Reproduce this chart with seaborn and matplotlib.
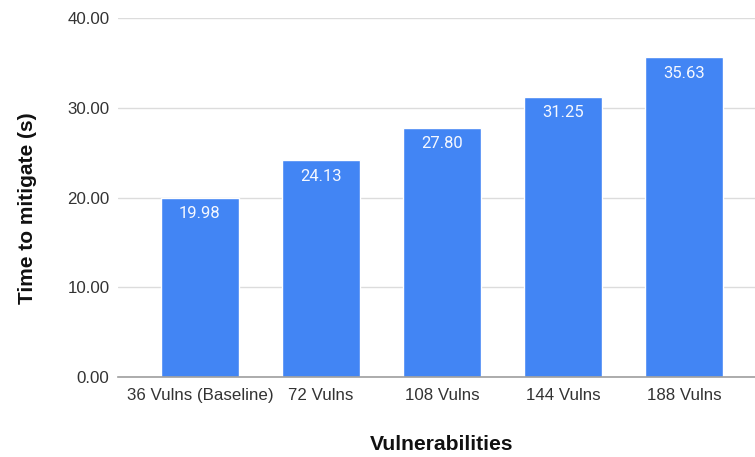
import matplotlib
matplotlib.use("Agg")
import matplotlib.pyplot as plt
import seaborn as sns
import pandas as pd

categories = ["36 Vulns (Baseline)", "72 Vulns", "108 Vulns", "144 Vulns", "188 Vulns"]
times = [19.98, 24.13, 27.80, 31.25, 35.63]
y_ticks = [0, 10, 20, 30, 40]

sns.set_style("white")
plt.rcParams["font.family"] = ["Liberation Sans", "DejaVu Sans"]

df = pd.DataFrame({"Vulnerabilities": categories, "Time": times})

fig = plt.figure(figsize=(7.55, 4.57), dpi=100)
ax = fig.add_axes([0.156, 0.175, 0.844, 0.7856])

sns.barplot(data=df, x="Vulnerabilities", y="Time", color="#4285F4",
            saturation=1, width=0.645, ax=ax)

ax.bar_label(ax.containers[0], fmt="%.2f", padding=-17, color="#f5f8ff",
             fontsize=12, family=["Roboto", "DejaVu Sans"])

ax.set_ylim(0, 40)
ax.set_xlim(-0.678, 4.587)
ax.set_yticks(y_ticks)
ax.set_yticklabels([f"{v:.2f}" for v in y_ticks])
ax.yaxis.grid(True, color="#dcdcdc", linewidth=1)
ax.set_axisbelow(True)

for side in ["top", "right", "left"]:
    ax.spines[side].set_visible(False)
ax.spines["bottom"].set_color("#9e9e9e")
ax.spines["bottom"].set_linewidth(1.2)

ax.tick_params(axis="both", length=0, labelsize=12.2, labelcolor="#333333")
ax.tick_params(axis="y", pad=6)
ax.tick_params(axis="x", pad=8)

ax.set_xlabel("Vulnerabilities", fontsize=15.2, fontweight="bold",
              color="#111111")
ax.xaxis.set_label_coords(0.508, -0.162)
ax.set_ylabel("Time to mitigate (s)", fontsize=15, fontweight="bold",
              color="#111111")
ax.yaxis.set_label_coords(-0.127, 0.47)

fig.savefig("out.png", dpi=100)
